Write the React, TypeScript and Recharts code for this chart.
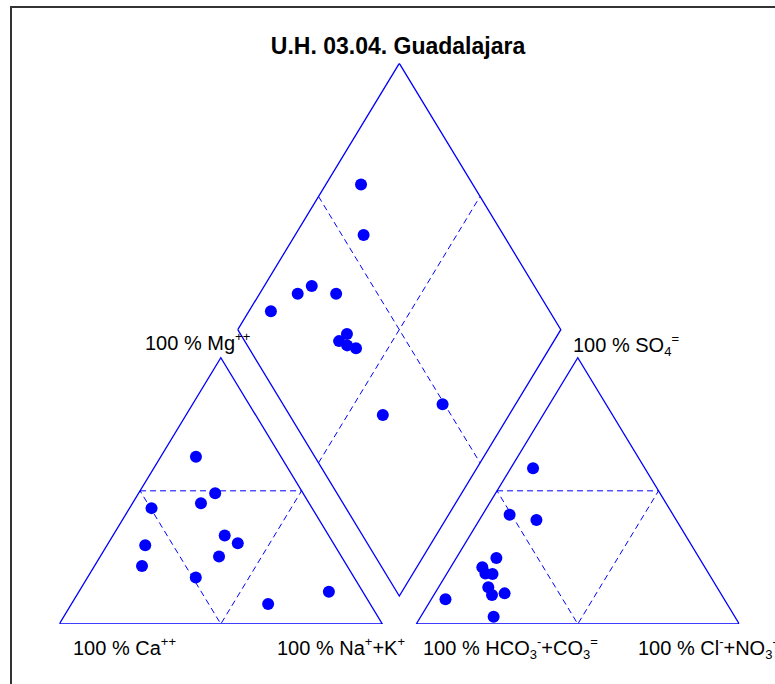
import { ScatterChart, Scatter, XAxis, YAxis } from "recharts";

// cation percentages (meq %)
const caPct = [26.3, 33.5, 49.7, 58.6, 63.5, 27.2, 32.2, 49.0, 37.9, 29.6, 31.6, 10.5];
const mgPct = [62.8, 45.3, 43.5, 29.6, 21.8, 49.1, 33.2, 17.5, 25.3, 30.3, 7.5, 12.1];
const naKPct = [10.9, 21.2, 6.8, 11.8, 14.7, 23.7, 34.6, 33.5, 36.8, 40.1, 60.9, 77.4];

// anion percentages (meq %)
const hco3Pct = [34.6, 43.3, 86.3, 74.7, 68.9, 62.8, 67.0, 70.8, 69.1, 66.9, 71.1, 50.6];
const so4Pct = [58.5, 39.0, 9.3, 2.7, 21.3, 24.8, 18.8, 13.8, 19.0, 11.5, 10.9, 41.0];
const clPct = [6.9, 17.7, 4.4, 22.6, 9.8, 12.4, 14.2, 15.4, 11.9, 21.6, 18.0, 8.4];

const BLUE = "#0000ff";
const FONT = '"Liberation Sans", Arial, Helvetica, sans-serif';
const H = Math.sqrt(3) / 2;
const GAP = 10.5;
const X_MAX = 200 + GAP;
const Y_MAX = H * (200 + GAP);

const cat = (ca: number, mg: number, na: number) => {
  const s = ca + mg + na;
  const m = (100 * mg) / s;
  const n = (100 * na) / s;
  return { x: n + m / 2, y: m * H };
};

const ani = (hco3: number, so4: number, cl: number) => {
  const s = hco3 + so4 + cl;
  const so = (100 * so4) / s;
  const c = (100 * cl) / s;
  return { x: 100 + GAP + c + so / 2, y: so * H };
};

// diamond: na = Na+K %, sc = SO4+Cl %
const dia = (na: number, sc: number) => {
  const c2 = 100 + GAP + sc;
  return { x: (na + c2) / 2, y: H * (c2 - na) };
};

const cationPts = caPct.map((c, i) => cat(c, mgPct[i], naKPct[i]));
const anionPts = hco3Pct.map((h, i) => ani(h, so4Pct[i], clPct[i]));
const diamondPts = caPct.map((c, i) => {
  const s1 = c + mgPct[i] + naKPct[i];
  const s2 = hco3Pct[i] + so4Pct[i] + clPct[i];
  return dia((100 * naKPct[i]) / s1, (100 * (so4Pct[i] + clPct[i])) / s2);
});

const outlines = [
  [cat(100, 0, 0), cat(0, 0, 100), cat(0, 100, 0), cat(100, 0, 0)],
  [ani(100, 0, 0), ani(0, 0, 100), ani(0, 100, 0), ani(100, 0, 0)],
  [dia(0, 0), dia(100, 0), dia(100, 100), dia(0, 100), dia(0, 0)],
];

const dashed = [
  [cat(50, 50, 0), cat(0, 50, 50), cat(50, 0, 50), cat(50, 50, 0)],
  [ani(50, 50, 0), ani(0, 50, 50), ani(50, 0, 50), ani(50, 50, 0)],
  [dia(0, 50), dia(100, 50)],
  [dia(50, 0), dia(50, 100)],
];

const noDot = () => <g />;
const dot = (p: any) => <circle cx={p.cx} cy={p.cy} r={6} fill={BLUE} />;

export default function App() {
  return (
    <div
      style={{
        position: "absolute",
        left: 0,
        top: 0,
        width: 775,
        height: 684,
        overflow: "hidden",
        background: "#fff",
      }}
    >
      <div
        style={{
          position: "absolute",
          left: 10,
          top: 6,
          width: 800,
          height: 720,
          borderLeft: "2px solid #333",
          borderTop: "2px solid #333",
        }}
      />
      <div style={{ position: "absolute", left: 0.5, top: 0 }}>
        <ScatterChart
          width={775}
          height={684}
          margin={{ top: 63.3, right: 36.7, bottom: 60, left: 58.3 }}
        >
          <XAxis type="number" dataKey="x" domain={[0, X_MAX]} allowDataOverflow hide />
          <YAxis type="number" dataKey="y" domain={[0, Y_MAX]} allowDataOverflow hide />
          {outlines.map((d, i) => (
            <Scatter
              key={"o" + i}
              data={d}
              shape={noDot}
              line={{ stroke: BLUE, strokeWidth: 1.3 }}
              isAnimationActive={false}
            />
          ))}
          {dashed.map((d, i) => (
            <Scatter
              key={"d" + i}
              data={d}
              shape={noDot}
              line={{ stroke: BLUE, strokeWidth: 1, strokeDasharray: "6 4" }}
              isAnimationActive={false}
            />
          ))}
          <Scatter data={cationPts} shape={dot} isAnimationActive={false} />
          <Scatter data={anionPts} shape={dot} isAnimationActive={false} />
          <Scatter data={diamondPts} shape={dot} isAnimationActive={false} />
        </ScatterChart>
      </div>
      <svg
        width={775}
        height={684}
        style={{ position: "absolute", left: 0, top: 0, pointerEvents: "none" }}
        fontFamily={FONT}
        fill="#000"
      >
        <text x={398} y={54} textAnchor="middle" fontWeight="bold" fontSize={23}>
          U.H. 03.04. Guadalajara
        </text>
        <text x={145} y={350} fontSize={20}>
          100 % Mg<tspan dy={-9} fontSize={13}>++</tspan>
        </text>
        <text x={573} y={351.5} fontSize={20}>
          100 % SO<tspan dy={4} fontSize={13}>4</tspan>
          <tspan dy={-13} fontSize={13}>=</tspan>
        </text>
        <text x={73} y={655} fontSize={20}>
          100 % Ca<tspan dy={-9} fontSize={13}>++</tspan>
        </text>
        <text x={277} y={655} fontSize={20}>
          100 % Na<tspan dy={-9} fontSize={13}>+</tspan>
          <tspan dy={9}>+K</tspan>
          <tspan dy={-9} fontSize={13}>+</tspan>
        </text>
        <text x={423} y={655} fontSize={20}>
          100 % HCO<tspan dy={4} fontSize={13}>3</tspan>
          <tspan dy={-13} fontSize={13}>-</tspan>
          <tspan dy={9}>+CO</tspan>
          <tspan dy={4} fontSize={13}>3</tspan>
          <tspan dy={-13} fontSize={13}>=</tspan>
        </text>
        <text x={638} y={655} fontSize={20}>
          100 % Cl<tspan dy={-9} fontSize={13}>-</tspan>
          <tspan dy={9}>+NO</tspan>
          <tspan dy={4} fontSize={13}>3</tspan>
          <tspan dy={-13} fontSize={13}>-</tspan>
        </text>
      </svg>
    </div>
  );
}
